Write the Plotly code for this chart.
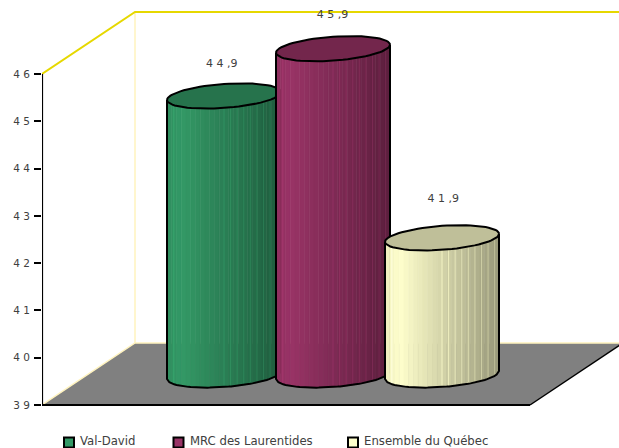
import numpy as np
import plotly.graph_objects as go

names = ["Val-David", "MRC des Laurentides", "Ensemble du Québec"]
values = [44.9, 45.9, 41.9]
value_labels = ["4 4 ,9", "4 5 ,9", "4 1 ,9"]
base_colors = [(51, 153, 102), (153, 51, 102), (255, 255, 204)]
tick_vals = [39, 40, 41, 42, 43, 44, 45, 46]
tick_text = ["3 9", "4 0", "4 1", "4 2", "4 3", "4 4", "4 5", "4 6"]

W, H = 619, 448
PX_L, PX_B = 42, 405
PX_PER_VAL = 47.29
PX_PER_X = 109.0
X0_PX = 224.0
xr = [(PX_L - X0_PX) / PX_PER_X, (W - X0_PX) / PX_PER_X]
yr = [39 - (H - PX_B) / PX_PER_VAL, 39 + PX_B / PX_PER_VAL]
xL = xr[0]
dep_x = 93 / PX_PER_X
dep_y = 62 / PX_PER_VAL
xR = (530 - X0_PX) / PX_PER_X
v0, v1 = tick_vals[0], tick_vals[-1]
R = 57 / PX_PER_X
B = 12 / PX_PER_VAL
K = 4 / PX_PER_VAL
MID = 30 / PX_PER_VAL

label_nudge_px = [3, 1, -4]
key_px = [69, 178.5, 353]
key_text_px = [81, 191, 365]
key_y_px = 442.5


def rgb(c, f):
    return "rgb(%d,%d,%d)" % tuple(min(255, round(v * f)) for v in c)


def shade(u):
    return 0.93 + 0.07 * u / 0.13 if u < 0.13 else 1 - 0.40 * (u - 0.13) / 0.87


def front(du):
    """value offset on the front rim at horizontal offset du (-1..1)"""
    return -(B * np.sqrt(np.clip(1 - du ** 2, 0, 1))) + K * du


def px_x(p):
    return xr[0] + (p - PX_L) / PX_PER_X


def px_y(p):
    return 39 + (PX_B - p) / PX_PER_VAL


fig = go.Figure()


def line(xs, ys, color, width, clip=True):
    fig.add_trace(go.Scatter(x=xs, y=ys, mode="lines", showlegend=False, hoverinfo="skip",
                             line=dict(color=color, width=width), cliponaxis=clip))


# floor
fig.add_trace(go.Scatter(x=[xL, xL + dep_x, xR + dep_x, xR, xL], y=[v0, v0 + dep_y, v0 + dep_y, v0, v0],
                         mode="lines", fill="toself", fillcolor="#808080", line=dict(width=0),
                         showlegend=False, hoverinfo="skip"))
# walls
line([xL + dep_x, xL + dep_x], [v0 + dep_y, v1 + dep_y], "#FFF3BE", 1.5)
line([xL, xL + dep_x, xr[1]], [v0, v0 + dep_y, v0 + dep_y], "#FFF3BE", 1.5)
line([xL, xL + dep_x, xr[1]], [v1, v1 + dep_y, v1 + dep_y], "#E6D800", 2)
line([xR + 0.012, xR + dep_x + 0.012], [v0, v0 + dep_y], "#FFFFFF", 1)
line([xR, xR + dep_x], [v0, v0 + dep_y], "#000000", 1.5)

# cylinders
N = 24
for i, (val, col) in enumerate(zip(values, base_colors)):
    yb = v0 + MID
    yt = val + MID
    edges = np.linspace(-1, 1, N + 1)
    for a, b in zip(edges[:-1], edges[1:]):
        c = rgb(col, shade((a + b + 2) / 4))
        us = np.linspace(a, b, 5)
        xs = i + R * us
        fig.add_trace(go.Scatter(
            x=np.r_[xs, xs[::-1], xs[0]],
            y=np.r_[yb + front(us), (yt + front(us))[::-1], yb + front(us[0])],
            mode="lines", fill="toself", fillcolor=c, line=dict(color=c, width=0.6),
            showlegend=False, hoverinfo="skip"))
    # facet seams on the right half and one near the left edge
    seams = [-0.88] + list(np.arange(0, 0.99, 0.1155))
    for s in seams:
        line([i + R * s] * 2, [yb + front(s), yt + front(s)], rgb(col, shade((s + 1) / 2) + 0.13), 1)
    # silhouette
    t = np.linspace(0, 2 * np.pi, 73)
    rx, ry = np.cos(t), -B * np.sin(t) + K * np.cos(t)
    us = np.linspace(-1, 1, 49)
    sil_x = np.r_[i - R, i + R * us, i + R]
    sil_y = np.r_[yt + front(-1.0), yb + front(us), yt + front(1.0)]
    line(sil_x, sil_y, "#000000", 2)
    # top ellipse
    fig.add_trace(go.Scatter(x=i + R * rx, y=yt + ry, mode="lines", fill="toself",
                             fillcolor=rgb(col, 0.75), line=dict(color="#000000", width=2),
                             showlegend=False, hoverinfo="skip"))

# value labels
fig.add_trace(go.Scatter(
    x=[i * 1.016 - 0.02 for i in range(3)],
    y=[v + (34.5 - n) / PX_PER_VAL + MID for v, n in zip(values, label_nudge_px)],
    mode="text", text=value_labels, textfont=dict(family="DejaVu Sans", size=11, color="#404040"),
    showlegend=False, hoverinfo="skip", cliponaxis=False))

# value axis line and base line
line([xL, xL], [v0, v1], "#000000", 2.2, clip=False)
line([xL, xR], [v0, v0], "#000000", 2.2, clip=False)

# legend keys and labels
for n, col, kx, tx in zip(names, base_colors, key_px, key_text_px):
    fig.add_trace(go.Scatter(x=[px_x(kx)], y=[px_y(key_y_px)], mode="markers", name=n, showlegend=False,
                             cliponaxis=False, hoverinfo="skip",
                             marker=dict(symbol="square", size=10, color=rgb(col, 1),
                                         line=dict(color="#000000", width=2))))
    fig.add_annotation(x=px_x(tx), y=px_y(key_y_px), text=n, showarrow=False, xanchor="left", yanchor="middle",
                       xshift=-1, yshift=2, borderpad=0, borderwidth=0,
                       font=dict(family="DejaVu Sans", size=11.7, color="#404040"))

fig.update_layout(
    width=W, height=H, autosize=False,
    margin=dict(l=PX_L, r=0, t=0, b=0, autoexpand=False),
    paper_bgcolor="#FFFFFF", plot_bgcolor="#FFFFFF",
    xaxis=dict(range=xr, visible=False, fixedrange=True),
    yaxis=dict(range=yr, tickvals=tick_vals, ticktext=tick_text, ticks="outside", ticklen=7,
               tickwidth=2, tickcolor="#000000", showgrid=False, zeroline=False, showline=False,
               ticklabelstandoff=2,
               tickfont=dict(family="DejaVu Sans", size=10.5, color="#404040"), fixedrange=True),
    showlegend=False,
)
fig.write_html("out.html", config={"displayModeBar": False},
               post_script="document.body.style.margin='0';document.documentElement.style.overflow='hidden';")
